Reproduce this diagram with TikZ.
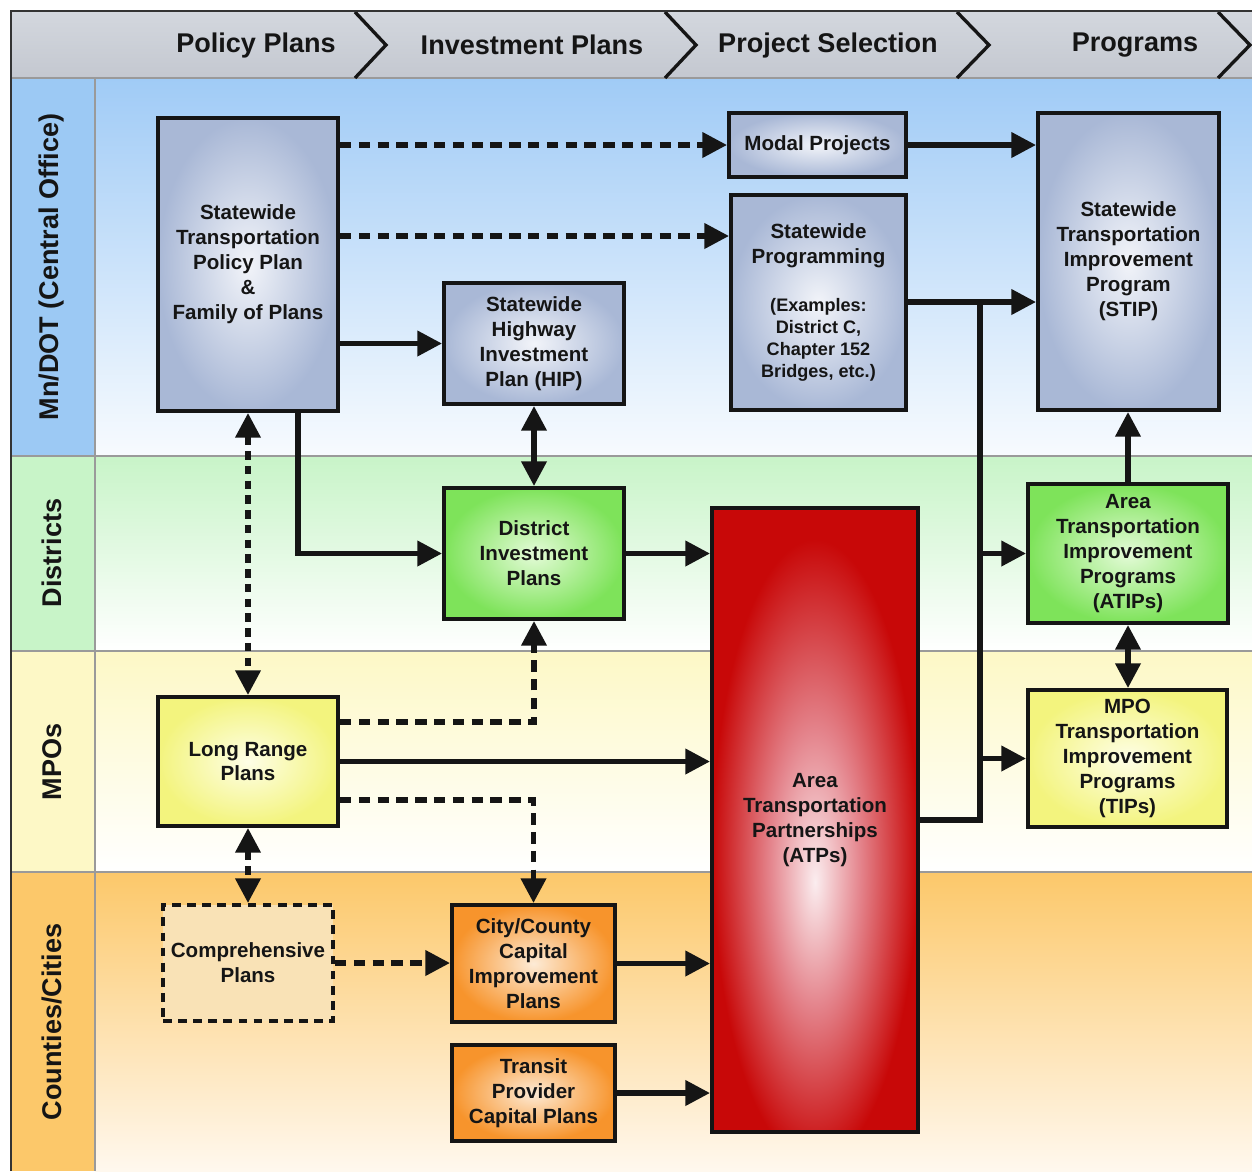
\documentclass[tikz,border=0pt]{standalone}
\usepackage{fontspec}
\setmainfont{Liberation Sans}
\usetikzlibrary{arrows.meta,shadings}

% lane colours
\definecolor{bluelane}{HTML}{A0CBF6}
\definecolor{bluelabel}{HTML}{9CC9F4}
\definecolor{greenlane}{HTML}{C8F4C8}
\definecolor{yellowlane}{HTML}{FDF8C6}
\definecolor{orangelane}{HTML}{FCC86A}
\definecolor{orangelight}{HTML}{FFF8EE}
\definecolor{headtop}{HTML}{D3D7DE}
\definecolor{headmid}{HTML}{EEF0F3}
\definecolor{headbot}{HTML}{C4C8D0}
\definecolor{sepgray}{HTML}{9A9A9A}
% box colours
\definecolor{bgout}{HTML}{A9B8D6}
\definecolor{bgin}{HTML}{F2F4F9}
\definecolor{grout}{HTML}{7EE35A}
\definecolor{grin}{HTML}{E4FBD8}
\definecolor{ylout}{HTML}{F3F47E}
\definecolor{ylin}{HTML}{FEFEE6}
\definecolor{orout}{HTML}{F7942C}
\definecolor{orin}{HTML}{FDEBD6}
\definecolor{compfill}{HTML}{F9E2B6}
\definecolor{atpout}{HTML}{C80808}
\definecolor{atpmid}{HTML}{E4848C}
\definecolor{atpin}{HTML}{FBEDEF}
\definecolor{ink}{HTML}{151515}

\pgfdeclareradialshading{atpshade}{\pgfpoint{0bp}{-5bp}}{%
  color(0bp)=(atpin); color(11bp)=(atpmid); color(25bp)=(atpout); color(50bp)=(atpout)}

\newcommand\boxfont{\fontsize{11.7}{14.2}\selectfont\bfseries}
\newcommand\smallboxfont{\fontsize{10.3}{12.5}\selectfont}
\newcommand\headfont{\fontsize{15.4}{18}\selectfont\bfseries}

\tikzset{
  x=0.02cm, y=-0.02cm,
  sz/.style 2 args={minimum width={#1*0.02cm}, minimum height={#2*0.02cm}},
  box/.style={draw=ink, line width=2.3pt, inner sep=0pt, align=center,
    font=\boxfont, text=ink},
  bluebox/.style={box, inner color=bgin, outer color=bgout},
  greenbox/.style={box, inner color=grin, outer color=grout},
  yellowbox/.style={box, inner color=ylin, outer color=ylout},
  orangebox/.style={box, inner color=orin, outer color=orout},
  redbox/.style={box, shading=atpshade, shade},
  dashbox/.style={box, fill=compfill, dash pattern=on 5pt off 3.6pt},
  lanelabel/.style={rotate=90, font=\headfont, text=ink},
  headlabel/.style={font=\headfont, text=ink},
  flow/.style={draw=ink, line width=2.9pt, -{Triangle[length=14pt,width=14pt]}},
  bothflow/.style={flow, {Triangle[length=14pt,width=14pt]}-{Triangle[length=14pt,width=14pt]}},
  dflow/.style={flow, dash pattern=on 6.5pt off 4.2pt},
  dbothflow/.style={bothflow, dash pattern=on 4.8pt off 3.6pt},
  chevron/.style={draw=ink, line width=1.9pt},
}

\begin{document}
\begin{tikzpicture}
\useasboundingbox (0,0) rectangle (1252,1171);
\fill[white] (0,0) rectangle (1252,1171);

% swim lanes
\shade[top color=bluelane, bottom color=white!92!bluelane] (95,78) rectangle (1252,456);
\shade[top color=greenlane, bottom color=white] (95,456) rectangle (1252,651);
\shade[top color=yellowlane, bottom color=white] (95,651) rectangle (1252,872);
\shade[top color=orangelane, bottom color=orangelight] (95,872) rectangle (1252,1171);

% lane label column
\fill[bluelabel] (11,78) rectangle (95,456);
\fill[greenlane] (11,456) rectangle (95,651);
\fill[yellowlane] (11,651) rectangle (95,872);
\fill[orangelane] (11,872) rectangle (95,1171);
\draw[sepgray, line width=0.6pt] (95,78) -- (95,1171);
\foreach \yy in {456,651,872} \draw[sepgray, line width=0.6pt] (11,\yy) -- (1252,\yy);

% phase header
\shade[top color=headtop, middle color=headmid, bottom color=headbot] (11,11) rectangle (1252,78);
\draw[sepgray, line width=0.8pt] (11,78) -- (1252,78);
\draw[chevron] (355,12) -- (386,45) -- (355,78);
\draw[chevron] (665,12) -- (696,45) -- (665,78);
\draw[chevron] (957,12) -- (989,45) -- (957,78);
\draw[chevron] (1218,12) -- (1250,45) -- (1218,78);
\draw[black!80, line width=1.2pt] (11,1171) -- (11,11) -- (1252,11);

\node[headlabel] (hpolicy) at (256,45) {Policy Plans};
\node[headlabel] (hinvest) at (532,45) {Investment Plans};
\node[headlabel] (hselect) at (828,45) {Project Selection};
\node[headlabel] (hprog) at (1135,45) {Programs};

\node[lanelabel] (lmndot) at (52,267) {Mn/DOT (Central Office)};
\node[lanelabel] (ldist) at (52,553) {Districts};
\node[lanelabel] (lmpo) at (52,762) {MPOs};
\node[lanelabel] (lcty) at (52,1022) {Counties/Cities};

% boxes
\node[bluebox, sz={180}{293}] (stpp) at (248,264.5)
  {Statewide\\Transportation\\Policy Plan\\\&\\Family of Plans};
\node[bluebox, sz={177}{64}] (modal) at (817.5,145) {Modal Projects};
\node[bluebox, sz={175}{215}] (sp) at (818.5,302.5)
  {Statewide\\Programming\\[13.6pt]\smallboxfont(Examples:\\[-1.7pt]%
   \smallboxfont District C,\\[-1.7pt]\smallboxfont Chapter 152\\[-1.7pt]%
   \smallboxfont Bridges, etc.)};
\node[bluebox, sz={181}{297}] (stip) at (1128.5,261.5)
  {Statewide\\Transportation\\Improvement\\Program\\(STIP)};
\node[bluebox, sz={180}{121}] (hip) at (534,343.5)
  {Statewide\\Highway\\Investment\\Plan (HIP)};
\node[greenbox, sz={180}{131}] (dip) at (534,553.5)
  {District\\Investment\\Plans};
\node[redbox, sz={206}{624}] (atp) at (815,820)
  {Area\\Transportation\\Partnerships\\(ATPs)};
\node[greenbox, sz={200}{139}] (atip) at (1128,553.5)
  {Area\\Transportation\\Improvement\\Programs\\(ATIPs)};
\node[yellowbox, sz={199}{137}] (tip) at (1127.5,758.5)
  {MPO\\Transportation\\Improvement\\Programs\\(TIPs)};
\node[yellowbox, sz={180}{129}] (lrp) at (248,761.5) {Long Range\\Plans};
\node[dashbox, sz={170}{116}] (comp) at (248,963) {Comprehensive\\Plans};
\node[orangebox, sz={163}{117}] (cip) at (533.5,963.5)
  {City/County\\Capital\\Improvement\\Plans};
\node[orangebox, sz={163}{96}] (transit) at (533.5,1093)
  {Transit\\Provider\\Capital Plans};

% reference levels for connectors
\coordinate (y145) at (0,145);
\coordinate (y236) at (0,236);
\coordinate (y722) at (0,722);
\coordinate (y800) at (0,800);
\coordinate (x298) at (298,0);
\coordinate (bus) at (980,302);

% connectors
\draw[dflow] (stpp.east |- y145) -- (modal.west |- y145);
\draw[dflow] (stpp.east |- y236) -- (sp.west |- y236);
\draw[flow] (stpp.east |- hip.west) -- (hip.west);
\draw[flow] (modal.east) -- (stip.west |- modal.east);
\draw[flow] (sp.east |- bus) -- (stip.west |- bus);
\draw[draw=ink, line width=2.9pt] (atp.east) -| (bus);
\draw[flow] (bus |- atip.west) -- (atip.west);
\draw[flow] (bus |- tip.west) -- (tip.west);
\draw[flow] (atip.north) -- (stip.south -| atip.north);
\draw[bothflow] (atip.south) -- (tip.north -| atip.south);
\draw[bothflow] (hip.south) -- (dip.north);
\draw[flow] (x298 |- stpp.south) |- (dip.west);
\draw[flow] (dip.east) -- (atp.west |- dip.east);
\draw[dbothflow] (stpp.south -| lrp.north) -- (lrp.north);
\draw[dflow] (lrp.east |- y722) -| (dip.south);
\draw[flow] (lrp.east) -- (atp.west |- lrp.east);
\draw[dflow] (lrp.east |- y800) -| (cip.north);
\draw[dbothflow] (lrp.south) -- (comp.north -| lrp.south);
\draw[dflow] (comp.east) -- (cip.west |- comp.east);
\draw[flow] (cip.east) -- (atp.west |- cip.east);
\draw[flow] (transit.east) -- (atp.west |- transit.east);
\end{tikzpicture}
\end{document}
